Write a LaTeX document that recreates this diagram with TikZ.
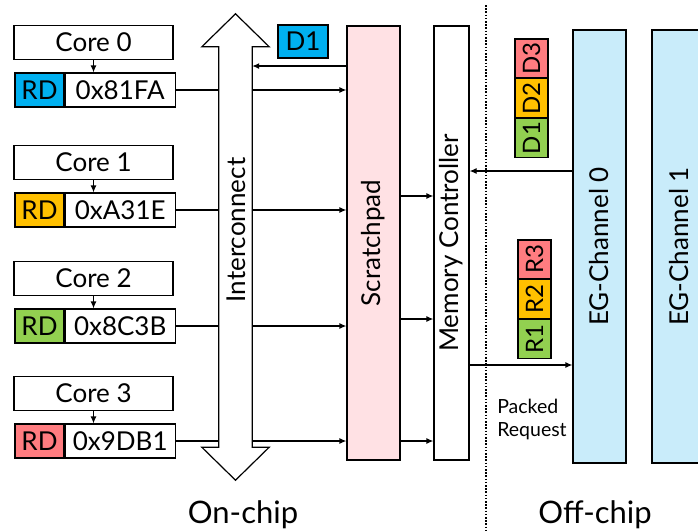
\documentclass[tikz,border=0pt]{standalone}
\usepackage{fontspec}
\setmainfont{Lato}
\usetikzlibrary{
  arrows.meta,
  calc,
  positioning
}
\definecolor{rdblue}{HTML}{00B0F0}
\definecolor{rdorange}{HTML}{FFC000}
\definecolor{rdgreen}{HTML}{92D050}
\definecolor{rdred}{HTML}{FF7C80}
\definecolor{padpink}{HTML}{FFE1E4}
\definecolor{chanblue}{HTML}{C9ECFA}
\tikzset{
  box/.style={
    draw,
    line width=1.2pt,
    inner sep=0pt,
    align=center,
    font=\fontsize{26}{28}\selectfont
  },
  core/.style={box, minimum width=159pt, minimum height=34pt},
  tag/.style={box, minimum width=49pt, minimum height=34pt},
  addr/.style={box, minimum width=110pt, minimum height=34pt},
  column/.style={box, minimum height=434pt},
  chunk/.style={box, minimum width=33pt, minimum height=38.7pt,
    font=\fontsize{24}{26}\selectfont},
  shaft/.style={inner sep=0pt, minimum width=33pt, minimum height=400pt},
  arrow/.style={-{Latex[length=7pt, width=6pt]}, line width=1.2pt},
  link/.style={line width=1.2pt},
  divider/.style={line width=1.6pt, dash pattern=on 1.6pt off 1.6pt},
  note/.style={align=left, font=\fontsize{19.5}{23}\selectfont},
  side/.style={anchor=base, font=\fontsize{31}{34}\selectfont}
}
\begin{document}
\begin{tikzpicture}[x=1pt, y=-1pt]
  \useasboundingbox (0,0) rectangle (698,531);

  % cores and their pending reads
  \node[core] (core0) at (93.5,42.5) {Core 0};
  \node[tag, fill=rdblue] (rd0) at (39.5,90) {RD};
  \node[addr, right=0pt of rd0] (addr0) {0x81FA};

  \node[core] (core1) at (93.5,162.5) {Core 1};
  \node[tag, fill=rdorange] (rd1) at (39.5,210) {RD};
  \node[addr, right=0pt of rd1] (addr1) {0xA31E};

  \node[core] (core2) at (93.5,278.5) {Core 2};
  \node[tag, fill=rdgreen] (rd2) at (39.5,326) {RD};
  \node[addr, right=0pt of rd2] (addr2) {0x8C3B};

  \node[core] (core3) at (93.5,393.5) {Core 3};
  \node[tag, fill=rdred] (rd3) at (39.5,441) {RD};
  \node[addr, right=0pt of rd3] (addr3) {0x9DB1};

  % interconnect
  \node[shaft] (inter) at (235.5,247) {};
  \draw[link] (inter.north west) -- ++(-17,0) -- ($(inter.north)+(0,-33)$)
    -- ($(inter.north east)+(17,0)$) -- (inter.north east)
    -- (inter.south east) -- ++(17,0) -- ($(inter.south)+(0,33)$)
    -- ($(inter.south west)+(-17,0)$) -- (inter.south west) -- cycle;
  \node[font=\fontsize{26}{28}\selectfont] (interlabel) at (236,230)
    {\rotatebox{90}{Interconnect}};

  % on-chip blocks
  \node[column, fill=padpink, minimum width=53pt] (spad) at (373.5,243)
    {\rotatebox{90}{Scratchpad}};
  \node[column, minimum width=35pt] (mc) at (451.5,243)
    {\rotatebox{90}{Memory Controller}};
  \node[box, fill=rdblue, minimum width=50pt, minimum height=33pt] (dblue)
    at (303,41.5) {D1};

  % off-chip channels
  \node[column, fill=chanblue, minimum width=53pt, minimum height=433pt] (eg0)
    at (599.5,246.5) {\rotatebox{90}{EG-Channel 0}};
  \node[column, fill=chanblue, minimum width=54pt, minimum height=433pt] (eg1)
    at (679,246.5) {\rotatebox{90}{EG-Channel 1}};

  \node[chunk, fill=rdred] (d3) at (531.5,58.3) {\rotatebox{90}{D3}};
  \node[chunk, fill=rdorange, below=0pt of d3] (d2) {\rotatebox{90}{D2}};
  \node[chunk, fill=rdgreen, below=0pt of d2] (d1) {\rotatebox{90}{D1}};

  \node[chunk, fill=rdred] (r3) at (534.5,259.3) {\rotatebox{90}{R3}};
  \node[chunk, fill=rdorange, below=0pt of r3] (r2) {\rotatebox{90}{R2}};
  \node[chunk, fill=rdgreen, below=0pt of r2] (r1) {\rotatebox{90}{R1}};

  \node[note] (packed) at (532,419) {Packed\\Request};

  % connections
  \draw[arrow] (core0.south) -- (core0.south |- addr0.north);
  \draw[arrow] (core1.south) -- (core1.south |- addr1.north);
  \draw[arrow] (core2.south) -- (core2.south |- addr2.north);
  \draw[arrow] (core3.south) -- (core3.south |- addr3.north);

  \draw[link] (addr0.east) -- (addr0.east -| inter.west);
  \draw[link] (addr1.east) -- (addr1.east -| inter.west);
  \draw[link] (addr2.east) -- (addr2.east -| inter.west);
  \draw[link] (addr3.east) -- (addr3.east -| inter.west);

  \draw[arrow] (addr0 -| inter.east) -- (addr0 -| spad.west);
  \draw[arrow] (addr1 -| inter.east) -- (addr1 -| spad.west);
  \draw[arrow] (addr2 -| inter.east) -- (addr2 -| spad.west);
  \draw[arrow] (addr3 -| inter.east) -- (addr3 -| spad.west);

  \coordinate (dret) at (0,66);
  \draw[arrow] (spad.west |- dret) -- (inter.east |- dret);

  \coordinate (fill1) at (0,196);
  \coordinate (fill2) at (0,319);
  \draw[arrow] (spad.east |- fill1) -- (mc.west |- fill1);
  \draw[arrow] (spad.east |- fill2) -- (mc.west |- fill2);
  \draw[arrow] (spad.east |- addr3) -- (mc.west |- addr3);

  \coordinate (resp) at (0,171);
  \coordinate (req) at (0,365);
  \draw[arrow] (eg0.west |- resp) -- (mc.east |- resp);
  \draw[arrow] (mc.east |- req) -- (eg0.west |- req);

  % chip boundary
  \draw[divider] (486,5) -- (486,531);
  \node[side] (onchip) at (243,523) {On-chip};
  \node[side] (offchip) at (595,523) {Off-chip};
\end{tikzpicture}
\end{document}
